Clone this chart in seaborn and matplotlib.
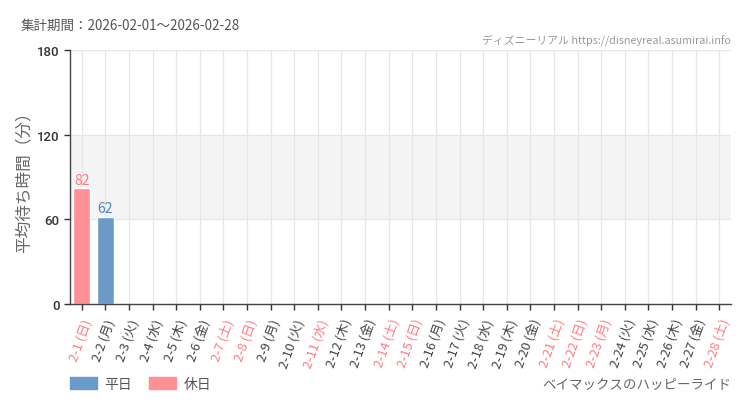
import matplotlib

matplotlib.use('Agg')
import matplotlib.pyplot as plt
import numpy as np
import pandas as pd
import seaborn as sns

# chart data
days = list(range(1, 29))
weekdays = ['日', '月', '火', '水', '木', '金', '土']
holidays = [11, 23]
wait_values = [82, 62] + [np.nan] * 26

title = '集計期間：2026-02-01～2026-02-28'
credit = 'ディズニーリアル https://disneyreal.asumirai.info'
ride = 'ベイマックスのハッピーライド'
ylabel = '平均待ち時間（分）'
yticks = [0, 60, 120, 180]

blue = '#6b9ac8'
pink = '#ff9096'
pink_txt = '#ff7b82'

sns.set_style('white')
plt.rcParams['font.family'] = ['Noto Sans CJK JP', 'DejaVu Sans']

labels, kinds = [], []
for d in days:
    wd = weekdays[(d - 1) % 7]
    labels.append(f'2-{d} ({wd})')
    off = wd in ('土', '日') or d in holidays
    kinds.append('休日' if off else '平日')

df = pd.DataFrame({'label': labels, 'value': wait_values, 'kind': kinds})

fig = plt.figure(figsize=(7.5, 4.1), dpi=100)
ax = fig.add_axes([70 / 750, 1 - 305 / 410, 661 / 750, 254 / 410])

ax.axhspan(60, 120, color='#f4f4f4', zorder=0)
sns.barplot(data=df, x='label', y='value', hue='kind', hue_order=['平日', '休日'],
            palette={'平日': blue, '休日': pink}, dodge=False, width=0.72,
            saturation=1, legend=False, ax=ax, zorder=2)

ax.set_ylim(0, 180)
ax.set_xlim(-0.5, len(days) - 0.5)
ax.set_yticks(yticks)
ax.set_yticklabels([str(v) for v in yticks], color='#333333', fontsize=9.5,
                   family=['Roboto', 'DejaVu Sans'], fontweight='medium')
for y in yticks[1:]:
    ax.axhline(y, color='#e6e6e6', lw=0.9, zorder=1)
for i in range(len(days)):
    ax.axvline(i, color='#e6e6e6', lw=0.9, zorder=1)

ax.set_xlabel('')
ax.set_ylabel(ylabel, color='#666666', fontsize=12, labelpad=3)
ax.tick_params(axis='both', direction='out', length=4, width=1, color='#333333', left=True, bottom=True)
ax.tick_params(axis='x', pad=5)
for s in ['top', 'right']:
    ax.spines[s].set_visible(False)
for s in ['left', 'bottom']:
    ax.spines[s].set_color('#444444')
    ax.spines[s].set_linewidth(1)

ax.set_xticks(range(len(days)))
ax.set_xticklabels(labels, rotation=70, ha='right', rotation_mode='anchor', fontsize=9.3)
for t, k in zip(ax.get_xticklabels(), kinds):
    t.set_color(pink_txt if k == '休日' else '#444444')

for i, (v, k) in enumerate(zip(wait_values, kinds)):
    if not np.isnan(v):
        ax.text(i, v + 1.2, f'{int(v)}', ha='center', va='bottom', fontsize=10,
                color=pink_txt if k == '休日' else '#4f86bd')

fig.text(21 / 750, 1 - 26 / 410, title, ha='left', va='center', fontsize=9.7, color='#555555')
fig.text(731 / 750, 1 - 40 / 410, credit, ha='right', va='center', fontsize=7.8, color='#999999')
fig.text(731 / 750, 1 - 385 / 410, ride, ha='right', va='center', fontsize=9.7, color='#666666')

handles = [plt.Rectangle((0, 0), 1, 1, color=blue), plt.Rectangle((0, 0), 1, 1, color=pink)]
fig.legend(handles, ['平日', '休日'], loc='center left', bbox_to_anchor=(57 / 750, 1 - 385 / 410),
           ncol=2, frameon=False, fontsize=10, handlelength=2.0, handleheight=0.9,
           columnspacing=1.2, handletextpad=0.5, labelcolor='#555555')

fig.savefig('out.png', dpi=100, facecolor='white')
